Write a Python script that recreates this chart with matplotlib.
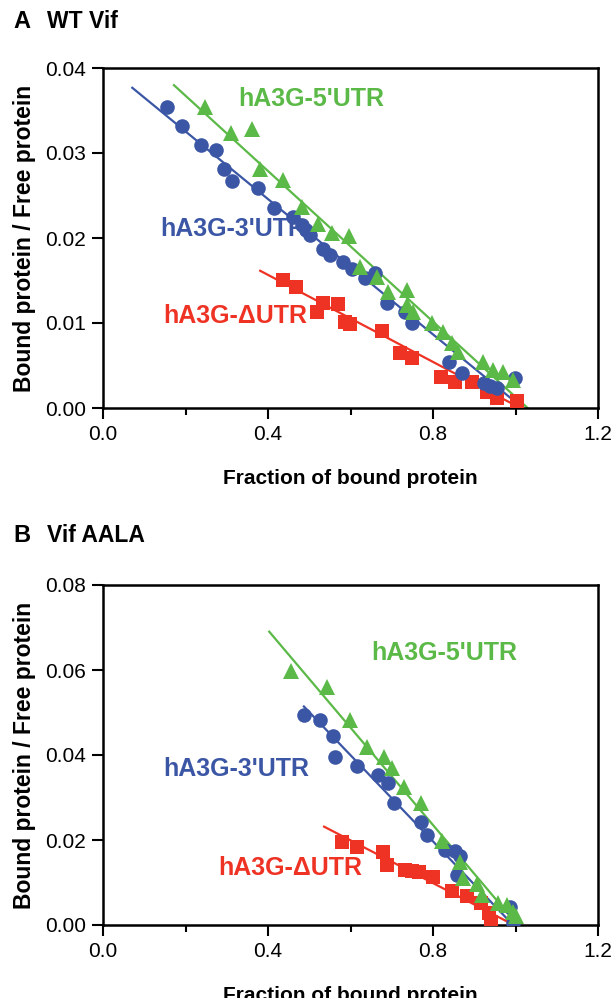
import numpy as np
import matplotlib.pyplot as plt
from matplotlib.ticker import MultipleLocator, FormatStrFormatter

plt.rcParams['font.family'] = ['Liberation Sans', 'DejaVu Sans']

BLUE = '#3b56a5'
GREEN = '#5bb947'
RED = '#ee3325'

# ---- panel A : WT Vif ----
a_utr3_x = [0.155, 0.192, 0.238, 0.274, 0.293, 0.313, 0.376, 0.414, 0.461, 0.482, 0.492, 0.502,
            0.533, 0.550, 0.582, 0.604, 0.635, 0.659, 0.688, 0.732, 0.749, 0.839, 0.870, 0.924,
            0.938, 0.955, 0.999]
a_utr3_y = [0.0354, 0.0332, 0.0309, 0.0304, 0.0281, 0.0267, 0.0259, 0.0235, 0.0225, 0.0215, 0.0209, 0.0204,
            0.0187, 0.0180, 0.0172, 0.0164, 0.0153, 0.0159, 0.0124, 0.0113, 0.0100, 0.0054, 0.0041, 0.0029,
            0.0026, 0.0024, 0.0035]
a_utr5_x = [0.247, 0.310, 0.361, 0.381, 0.436, 0.482, 0.521, 0.555, 0.596, 0.623, 0.664, 0.691,
            0.737, 0.737, 0.752, 0.798, 0.824, 0.846, 0.861, 0.921, 0.945, 0.970, 0.994]
a_utr5_y = [0.0354, 0.0324, 0.0328, 0.0281, 0.0268, 0.0236, 0.0216, 0.0206, 0.0202, 0.0166, 0.0154, 0.0136,
            0.0139, 0.0121, 0.0113, 0.0100, 0.0089, 0.0076, 0.0066, 0.0054, 0.0045, 0.0042, 0.0033]
a_dutr_x = [0.436, 0.468, 0.519, 0.533, 0.570, 0.587, 0.599, 0.676, 0.720, 0.749, 0.819, 0.853,
            0.895, 0.931, 0.955, 1.004]
a_dutr_y = [0.0151, 0.0142, 0.0113, 0.0124, 0.0122, 0.0101, 0.0099, 0.0091, 0.0065, 0.0059, 0.0036, 0.0031,
            0.0031, 0.0019, 0.0012, 0.0008]
# linear fits: slope, intercept, x from, x to
a_fit_utr3 = (-0.0398, 0.0405, 0.071, 1.018)
a_fit_utr5 = (-0.0443, 0.0456, 0.172, 1.030)
a_fit_dutr = (-0.0256, 0.0259, 0.381, 1.011)

# ---- panel B : Vif AALA ----
b_utr3_x = [0.487, 0.526, 0.558, 0.562, 0.616, 0.667, 0.691, 0.705, 0.771, 0.785, 0.829, 0.853,
            0.865, 0.858, 0.987, 0.994]
b_utr3_y = [0.0494, 0.0482, 0.0445, 0.0395, 0.0374, 0.0353, 0.0334, 0.0287, 0.0242, 0.0212, 0.0176, 0.0174,
            0.0162, 0.0118, 0.0042, 0.0005]
b_utr5_x = [0.456, 0.543, 0.599, 0.640, 0.681, 0.701, 0.730, 0.771, 0.822, 0.865, 0.873, 0.907,
            0.919, 0.958, 0.979, 0.994, 1.001]
b_utr5_y = [0.0598, 0.0560, 0.0482, 0.0419, 0.0395, 0.0369, 0.0325, 0.0287, 0.0198, 0.0148, 0.0111, 0.0096,
            0.0071, 0.0052, 0.0047, 0.0031, 0.0021]
b_dutr_x = [0.579, 0.616, 0.679, 0.688, 0.732, 0.749, 0.766, 0.800, 0.846, 0.882, 0.916, 0.936, 0.941]
b_dutr_y = [0.0195, 0.0184, 0.0172, 0.0141, 0.0129, 0.0127, 0.0125, 0.0113, 0.0080, 0.0068, 0.0052, 0.0028,
            0.0007]
b_fit_utr3 = (-0.1014, 0.1008, 0.487, 0.994)
b_fit_utr5 = (-0.1146, 0.1152, 0.403, 1.005)
b_fit_dutr = (-0.0503, 0.0501, 0.536, 0.990)

fig = plt.figure(figsize=(6.14, 9.98), dpi=100)
axA = fig.add_axes([103 / 614, 1 - 408 / 998, 495 / 614, 340 / 998])
axB = fig.add_axes([103 / 614, 1 - 925 / 998, 495 / 614, 340 / 998])


def fit_line(ax, fit, color):
    m, b, x0, x1 = fit
    xs = np.array([x0, x1])
    ax.plot(xs, m * xs + b, color=color, lw=1.6, zorder=2)


def panel(ax, utr3, utr5, dutr, fits, ymax, ystep):
    fit_line(ax, fits[0], BLUE)
    fit_line(ax, fits[1], GREEN)
    fit_line(ax, fits[2], RED)
    ax.plot(*dutr, 's', color=RED, ms=9.5, mew=0, zorder=3)
    ax.plot(*utr3, 'o', color=BLUE, ms=10.5, mew=0, zorder=4)
    ax.plot(*utr5, '^', color=GREEN, ms=12, mew=0, zorder=5)
    ax.set_xlim(0, 1.2)
    ax.set_ylim(0, ymax)
    ax.xaxis.set_major_locator(MultipleLocator(0.4))
    ax.xaxis.set_minor_locator(MultipleLocator(0.2))
    ax.yaxis.set_major_locator(MultipleLocator(ystep))
    ax.xaxis.set_major_formatter(FormatStrFormatter('%.1f'))
    ax.yaxis.set_major_formatter(FormatStrFormatter('%.2f'))
    ax.tick_params(which='major', direction='out', length=8, width=1.5, labelsize=15, pad=4)
    ax.tick_params(which='minor', direction='out', length=5, width=1.5)
    ax.tick_params(axis='y', which='minor', left=False)
    for s in ax.spines.values():
        s.set_linewidth(1.8)
    ax.set_xlabel('Fraction of bound protein', fontsize=15, fontweight='bold', labelpad=18)
    ax.set_ylabel('Bound protein / Free protein', fontsize=16.5, fontweight='bold', labelpad=7)


panel(axA, (a_utr3_x, a_utr3_y), (a_utr5_x, a_utr5_y), (a_dutr_x, a_dutr_y),
      (a_fit_utr3, a_fit_utr5, a_fit_dutr), 0.04, 0.01)
panel(axB, (b_utr3_x, b_utr3_y), (b_utr5_x, b_utr5_y), (b_dutr_x, b_dutr_y),
      (b_fit_utr3, b_fit_utr5, b_fit_dutr), 0.08, 0.02)

lab = dict(fontsize=18, fontweight='bold', ha='left', va='center')
axA.text(0.327, 0.0364, "hA3G-5'UTR", color=GREEN, **lab)
axA.text(0.138, 0.0211, "hA3G-3'UTR", color=BLUE, **lab)
axA.text(0.145, 0.0108, "hA3G-\u0394UTR", color=RED, **lab)
axB.text(0.650, 0.0640, "hA3G-5'UTR", color=GREEN, **lab)
axB.text(0.145, 0.0367, "hA3G-3'UTR", color=BLUE, **lab)
axB.text(0.279, 0.0134, "hA3G-\u0394UTR", color=RED, **lab)

fig.text(13 / 614, 1 - 22 / 998, 'A', fontsize=17, fontweight='bold', va='center')
fig.text(47 / 614, 1 - 22 / 998, 'WT Vif', fontsize=16.5, fontweight='bold', va='center')
fig.text(13 / 614, 1 - 536 / 998, 'B', fontsize=17, fontweight='bold', va='center')
fig.text(47 / 614, 1 - 536 / 998, 'Vif AALA', fontsize=16.5, fontweight='bold', va='center')

fig.savefig('out.png', dpi=100)
